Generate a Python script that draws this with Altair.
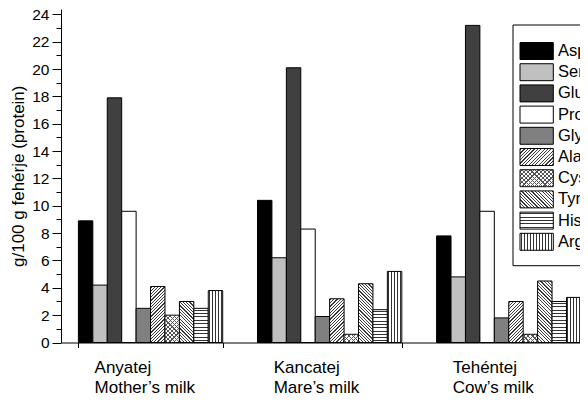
import math
import altair as alt

# ---------------- data ----------------
milks = ["Anyatej|Mother’s milk", "Kancatej|Mare’s milk", "Tehéntej|Cow’s milk"]
aminos = ["Asp", "Ser", "Glu", "Pro", "Gly", "Ala", "Cys", "Tyr", "His", "Arg"]
mother = [8.9, 4.2, 17.9, 9.6, 2.5, 4.1, 2.0, 3.0, 2.5, 3.8]
mare = [10.4, 6.2, 20.1, 8.3, 1.9, 3.2, 0.6, 4.3, 2.4, 5.2]
cow = [7.8, 4.8, 23.2, 9.6, 1.8, 3.0, 0.6, 4.5, 3.0, 3.3]
major_ticks = list(range(0, 25, 2))
minor_ticks = list(range(1, 25, 2))
y_title = "g/100 g fehérje (protein)"

# ---------------- layout ----------------
FONT = "Liberation Sans, Arial, sans-serif"
SVG_W, SVG_H = 572, 389                 # page = svg + 2 x 8px margin = 588 x 405
VIEW_W, VIEW_H = 537.3, 333.5
PAD_L, PAD_T = 53, 1
PAD_R = SVG_W - PAD_L - VIEW_W          # negative: the plot runs past the page edge
PAD_B = SVG_H - PAD_T - VIEW_H
P_INNER = 0.1943
Y_MAX = 24.4
PX = VIEW_H / Y_MAX
BAR_W = VIEW_W / 3 * (1 - P_INNER) / 10
LEG_W, LEG_H = 33.3, 16.96

SOLID = {"Asp": "#000000", "Ser": "#c0c0c0", "Glu": "#404040",
         "Pro": "#ffffff", "Gly": "#808080"}
BG = "#ffffff"
CLEAR = "rgba(255,255,255,0)"


def stripe_stops(n, lw, line, bg):
    stops = [{"offset": 0, "color": bg}]
    for k in range(n):
        c = (k + 0.5) / n
        a = max(c - lw / 2, 0.0)
        b = min(c + lw / 2, 1.0)
        stops += [{"offset": round(a, 4), "color": bg},
                  {"offset": round(a, 4), "color": line},
                  {"offset": round(b, 4), "color": line},
                  {"offset": round(b, 4), "color": bg}]
    stops.append({"offset": 1, "color": bg})
    return stops


def diag(W, H, direction, p=2.3, lw=0.85, line="#3a3a3a", bg=BG):
    H = max(H, 1.0)
    a = (W + H) / (W * W + H * H)
    L = W + H
    n = max(1, round(L / (p * math.sqrt(2))))
    lwf = lw * math.sqrt(2) / L
    if direction == "/":
        x1, y1, x2, y2 = 0, 0, a * W, a * H
    else:
        x1, y1, x2, y2 = 0, 1, a * W, 1 - a * H
    return {"gradient": "linear", "x1": x1, "y1": y1, "x2": x2, "y2": y2,
            "stops": stripe_stops(n, lwf, line, bg)}


def horiz(W, H, p=3.3, lw=1.0, line="#333333"):
    H = max(H, 1.0)
    n = max(1, round(H / p))
    return {"gradient": "linear", "x1": 0, "y1": 0, "x2": 0, "y2": 1,
            "stops": stripe_stops(n, lw / H, line, BG)}


def vert(W, H, p=2.9, lw=1.0, line="#333333"):
    n = max(1, round(W / p))
    return {"gradient": "linear", "x1": 0, "y1": 0, "x2": 1, "y2": 0,
            "stops": stripe_stops(n, lw / W, line, BG)}


def make_fill(amino, W, H):
    if amino in SOLID:
        return SOLID[amino]
    if amino == "Ala":
        return diag(W, H, "/")
    if amino == "Tyr":
        return diag(W, H, "\\")
    if amino == "Cys":
        return diag(W, H, "/", p=3.0, lw=0.8, line="#555555")
    if amino == "His":
        return horiz(W, H)
    return vert(W, H)


def make_over(amino, W, H):
    if amino == "Cys":
        return diag(W, H, "\\", p=3.0, lw=0.8, line="#555555", bg=CLEAR)
    return CLEAR


rows = []
for milk, vals in zip(milks, [mother, mare, cow]):
    for amino, v in zip(aminos, vals):
        rows.append({"milk": milk, "amino": amino, "value": v,
                     "fill": make_fill(amino, BAR_W, v * PX),
                     "over": make_over(amino, BAR_W, v * PX)})

leg_rows = [{"amino": a, "fill": make_fill(a, LEG_W, LEG_H),
             "over": make_over(a, LEG_W, LEG_H)} for a in aminos]

data = alt.Data(values=rows)
leg_data = alt.Data(values=leg_rows)

x_enc = alt.X(
    "milk:N",
    scale=alt.Scale(domain=milks, paddingInner=P_INNER, paddingOuter=P_INNER / 2),
    axis=alt.Axis(
        title=None, tickBand="extent", tickSize=5, tickColor="black",
        domainColor="black", labelAngle=0, labelAlign="left",
        labelBaseline="top", labelFontSize=17, labelFont=FONT,
        labelColor="black", labelPadding=11.5, labelLineHeight=20.5,
        labelExpr="split(datum.label, '|')", labelOffset=-56.5,
        labelOverlap=False, labelLimit=300, grid=False,
    ),
)
xo_enc = alt.XOffset("amino:N", scale=alt.Scale(domain=aminos, paddingInner=0,
                                                 paddingOuter=0))
y_scale = alt.Scale(domain=[0, Y_MAX], nice=False, zero=True)
y_enc = alt.Y(
    "value:Q", stack=None, scale=y_scale,
    axis=alt.Axis(
        title=y_title, values=major_ticks, tickSize=9, orient="left",
        labelPadding=3, labelFontSize=15.5, labelFont=FONT, labelColor="black",
        titleFont=FONT, titleFontSize=17, titleFontWeight="normal",
        titleColor="black", domainColor="black", tickColor="black", grid=False,
    ),
)
y_enc_minor = alt.Y(
    "value:Q", stack=None, scale=y_scale,
    axis=alt.Axis(
        title=None, values=minor_ticks, tickSize=5, orient="left", labels=False,
        domain=False, tickColor="black", grid=False,
    ),
)

bars = alt.Chart(data).mark_bar(stroke="black", strokeWidth=1).encode(
    x=x_enc, xOffset=xo_enc, y=y_enc, fill=alt.Fill("fill:N", scale=None))
over = alt.Chart(data).mark_bar(strokeWidth=0).encode(
    x=x_enc, xOffset=xo_enc, y=y_enc_minor, fill=alt.Fill("over:N", scale=None)
).transform_filter("datum.amino === 'Cys'")
main = alt.layer(bars, over).resolve_scale(y="independent")

leg_y = alt.Y("amino:N", axis=None,
              scale=alt.Scale(domain=aminos, range=[31.4, 243.4],
                              paddingInner=0.2, paddingOuter=0.1))
box = alt.Chart(alt.Data(values=[{"k": 1}])).mark_rect(
    fill="white", stroke="black", strokeWidth=1).encode(
    x=alt.value(452), x2=alt.value(600), y=alt.value(16), y2=alt.value(256.7))
sw = alt.Chart(leg_data).mark_rect(stroke="black", strokeWidth=1).encode(
    y=leg_y, x=alt.value(459), x2=alt.value(492.3),
    fill=alt.Fill("fill:N", scale=None))
sw_over = alt.Chart(leg_data).mark_rect(strokeWidth=0).encode(
    y=leg_y, x=alt.value(459), x2=alt.value(492.3),
    fill=alt.Fill("over:N", scale=None)).transform_filter("datum.amino === 'Cys'")
txt = alt.Chart(leg_data).mark_text(
    align="left", baseline="middle", fontSize=16.5, font=FONT, color="black").encode(
    y=leg_y, x=alt.value(497), text="amino:N")
legend = alt.layer(box, sw, sw_over, txt)

chart = alt.layer(main, legend).resolve_scale(y="independent").properties(
    width=VIEW_W, height=VIEW_H,
    autosize=alt.AutoSizeParams(type="none"),
    padding={"left": PAD_L, "top": PAD_T, "right": PAD_R, "bottom": PAD_B},
).configure(font=FONT, background="white", view=alt.ViewConfig(strokeWidth=0))

chart.save("out.html", embed_options={"renderer": "svg", "actions": False})
